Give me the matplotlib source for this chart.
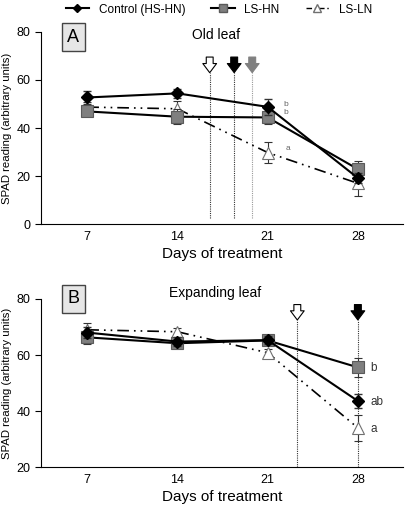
import matplotlib
matplotlib.use("Agg")
import matplotlib.pyplot as plt
from matplotlib.lines import Line2D

plt.rcParams['font.family'] = ['Liberation Sans', 'DejaVu Sans']

# data
days = [7, 14, 21, 28]

# panel A - old leaf
ctrl_a = [52.7, 54.4, 48.8, 19.2]
ctrl_a_err = [2.8, 2.0, 3.2, 2.0]
lshn_a = [46.9, 44.7, 44.4, 22.9]
lshn_a_err = [2.0, 3.0, 2.6, 3.4]
lsln_a = [48.7, 48.0, 29.8, 17.0]
lsln_a_err = [2.0, 3.2, 4.2, 5.3]
letters_a = ['b', 'b', 'a']
arrows_a = [16.5, 18.4, 19.8]
arrow_cols_a = ['white', 'black', '#808080']

# panel B - expanding leaf
ctrl_b = [68.0, 64.8, 65.3, 43.6]
ctrl_b_err = [2.0, 1.5, 1.5, 2.4]
lshn_b = [66.3, 64.2, 65.2, 55.6]
lshn_b_err = [2.3, 1.5, 1.5, 3.4]
lsln_b = [69.0, 68.3, 60.8, 34.0]
lsln_b_err = [2.3, 1.3, 1.5, 4.7]
letters_b = ['b', 'ab', 'a']
arrows_b = [23.3, 28.0]
arrow_cols_b = ['white', 'black']

dashdot = (7, 3, 1, 3, 1, 3)


def draw_series(ax, c, ce, h, he, l, le):
    ax.errorbar(days, l, yerr=le, color='black', lw=1.2, dashes=dashdot,
                marker='^', ms=8, mfc='white', mec='#707070', mew=0.8,
                capsize=3, elinewidth=0.8, ecolor='#333333', zorder=3)
    ax.errorbar(days, h, yerr=he, color='black', lw=1.5,
                marker='s', ms=8, mfc='#7f7f7f', mec='#5a5a5a', mew=0.8,
                capsize=3, elinewidth=0.8, ecolor='#333333', zorder=4)
    ax.errorbar(days, c, yerr=ce, color='black', lw=1.5,
                marker='D', ms=6, mfc='black', mec='black',
                capsize=3, elinewidth=0.8, ecolor='#333333', zorder=5)


def style_axes(ax, ylim, yticks):
    ax.set_xlim(3.4, 31.5)
    ax.set_ylim(*ylim)
    ax.set_yticks(yticks)
    ax.set_xticks(days)
    ax.spines['top'].set_visible(False)
    ax.spines['right'].set_visible(False)
    ax.tick_params(axis='x', length=0, labelsize=9, pad=5)
    ax.tick_params(axis='y', length=4, labelsize=9, direction='out')
    ax.set_xlabel('Days of treatment', fontsize=11, labelpad=3)
    ax.set_ylabel('SPAD reading (arbitrary units)', fontsize=8.2, labelpad=3)


def draw_arrows(ax, xs, cols, top, bottom, line_bottom):
    for x, col in zip(xs, cols):
        ec = '#808080' if col == '#808080' else 'black'
        lc = '#999999' if col == '#808080' else '#333333'
        ax.plot([x, x], [line_bottom, bottom], color=lc, lw=0.8,
                ls=(0, (1, 1)), zorder=1)
        ax.annotate('', xy=(x, bottom), xytext=(x, top),
                    arrowprops=dict(arrowstyle='simple,head_length=0.6,head_width=0.9,tail_width=0.45',
                                    fc=col, ec=ec, lw=0.8, mutation_scale=11,
                                    shrinkA=0, shrinkB=0))


fig = plt.figure(figsize=(4.05, 5.05), dpi=100)
axA = fig.add_axes([0.101, 0.556, 0.894, 0.381])
axB = fig.add_axes([0.101, 0.075, 0.894, 0.333])

# panel A
draw_arrows(axA, arrows_a, arrow_cols_a, 69.5, 63.0, 2.5)
draw_series(axA, ctrl_a, ctrl_a_err, lshn_a, lshn_a_err, lsln_a, lsln_a_err)
style_axes(axA, (0, 80), [0, 20, 40, 60, 80])
axA.text(22.2, 49.2, letters_a[0], fontsize=6, color='#666666')
axA.text(22.2, 45.8, letters_a[1], fontsize=6, color='#666666')
axA.text(22.4, 31.0, letters_a[2], fontsize=6, color='#666666')
axA.text(5.9, 77.7, 'A', fontsize=13, ha='center', va='center', clip_on=False,
         bbox=dict(boxstyle='square,pad=0.3', fc='#e6e6e6', ec='#444444', lw=1))
axA.text(17.0, 78.7, 'Old leaf', fontsize=10, ha='center', va='center', clip_on=False)

# panel B
draw_arrows(axB, arrows_b, arrow_cols_b, 78.0, 72.5, 20)
draw_series(axB, ctrl_b, ctrl_b_err, lshn_b, lshn_b_err, lsln_b, lsln_b_err)
style_axes(axB, (20, 80), [20, 40, 60, 80])
axB.text(29.0, 55.4, letters_b[0], fontsize=8.5, va='center', color='#333333')
axB.text(29.0, 43.4, letters_b[1], fontsize=8.5, va='center', color='#333333')
axB.text(29.0, 33.6, letters_b[2], fontsize=8.5, va='center', color='#333333')
axB.text(5.9, 80.0, 'B', fontsize=13, ha='center', va='center', clip_on=False,
         bbox=dict(boxstyle='square,pad=0.3', fc='#e6e6e6', ec='#444444', lw=1))
axB.text(16.9, 82.0, 'Expanding leaf', fontsize=10, ha='center', va='center', clip_on=False)

# legend across the top
handles = [
    Line2D([], [], color='black', lw=1.5, marker='D', ms=4, mfc='black'),
    Line2D([], [], color='black', lw=1.5, marker='s', ms=6, mfc='#7f7f7f', mec='#5a5a5a'),
    Line2D([], [], color='black', lw=1.0, dashes=(4, 2, 1, 2), marker='^', ms=6,
           mfc='white', mec='#707070'),
]
fig.legend(handles, ['Control (HS-HN)', 'LS-HN', 'LS-LN'], loc='upper center',
           bbox_to_anchor=(0.54, 1.014), ncol=3, frameon=False, fontsize=8.5,
           handlelength=2.0, columnspacing=2.2, handletextpad=0.8)

fig.savefig('out.png', dpi=100)
